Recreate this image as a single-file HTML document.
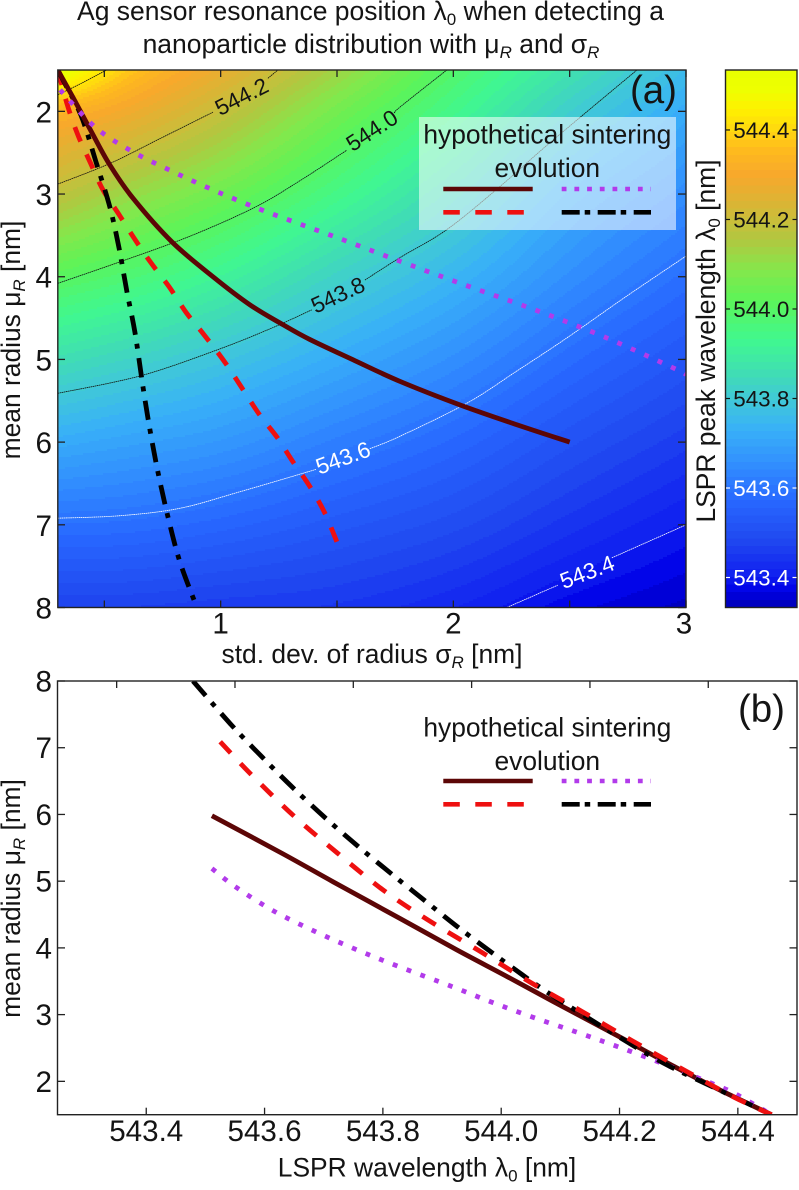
<!DOCTYPE html>
<html lang="en">
<head>
<meta charset="utf-8">
<title>Ag sensor resonance position</title>
<style>
html,body{margin:0;padding:0;background:#fff;}
svg{display:block;}
text{font-family:"Liberation Sans",sans-serif;fill:#141414;}
</style>
</head>
<body>
<svg id="chart" xmlns="http://www.w3.org/2000/svg" width="799" height="1190" viewBox="0 0 799 1190">
  <defs>
    <clipPath id="clip-a"><rect x="57.8" y="70" width="628.2" height="537.5"/></clipPath>
    <clipPath id="clip-b"><rect x="57.5" y="681" width="739.5" height="433.7"/></clipPath>
  </defs>
  <text x="370.5" y="20" text-anchor="middle" font-size="26.5">Ag sensor resonance position λ<tspan dy="5" font-size="17">0</tspan><tspan dy="-5"> when detecting a</tspan></text>
  <text x="371" y="53" text-anchor="middle" font-size="26.5">nanoparticle distribution with μ<tspan dy="5" font-size="17" font-style="italic">R</tspan><tspan dy="-5"> and σ</tspan><tspan dy="5" font-size="17" font-style="italic">R</tspan></text>

  <g id="heat-layer" clip-path="url(#clip-a)" shape-rendering="crispEdges"></g>
  <g id="contour-layer" clip-path="url(#clip-a)"></g>
  <g id="curves-a" clip-path="url(#clip-a)"></g>
  <rect x="419" y="117" width="257" height="113" fill="#ffffff" fill-opacity="0.55"/>
  <g id="ticks-a"></g>
  <rect x="57.8" y="70" width="628.2" height="537.5" fill="none" stroke="#222" stroke-width="1.4"/>

  <text x="677" y="103" text-anchor="end" font-size="38.5">(a)</text>
  <text x="547.3" y="143.3" text-anchor="middle" font-size="26.4">hypothetical sintering</text>
  <text x="547.3" y="177" text-anchor="middle" font-size="26.4">evolution</text>
  <line x1="443.3" x2="532.7" y1="189" y2="189" stroke="#5c0606" stroke-width="4.6"/>
  <line x1="561.7" x2="651" y1="189" y2="189" stroke="#b23bea" stroke-width="4.6" stroke-dasharray="4.8 7.9"/>
  <line x1="443.3" x2="524" y1="212.3" y2="212.3" stroke="#ee1010" stroke-width="4.6" stroke-dasharray="16.5 15.5"/>
  <line x1="561.7" x2="651" y1="212.3" y2="212.3" stroke="#000" stroke-width="4.6" stroke-dasharray="18 5 5.5 7.5"/>

  <text x="372" y="663" text-anchor="middle" font-size="26.4">std. dev. of radius σ<tspan dy="5" font-size="17" font-style="italic">R</tspan><tspan dy="-5"> [nm]</tspan></text>
  <text transform="translate(20,340) rotate(-90)" text-anchor="middle" font-size="26.4">mean radius μ<tspan dy="5" font-size="17" font-style="italic">R</tspan><tspan dy="-5"> [nm]</tspan></text>

  <g id="colorbar" shape-rendering="crispEdges"></g>
  <rect x="725.5" y="70" width="71.5" height="537.5" fill="none" stroke="#222" stroke-width="1.4"/>
  <g id="colorbar-ticks"></g>
  <text transform="translate(715,341) rotate(-90)" text-anchor="middle" font-size="26.4">LSPR peak wavelength λ<tspan dy="5" font-size="17">0</tspan><tspan dy="-5"> [nm]</tspan></text>

  <g id="curves-b" clip-path="url(#clip-b)"></g>
  <g id="ticks-b"></g>
  <rect x="57.5" y="681" width="739.5" height="433.7" fill="none" stroke="#222" stroke-width="1.4"/>

  <text x="785" y="722" text-anchor="end" font-size="38.5">(b)</text>
  <text x="547.3" y="736.7" text-anchor="middle" font-size="26.4">hypothetical sintering</text>
  <text x="547.3" y="770" text-anchor="middle" font-size="26.4">evolution</text>
  <line x1="443.3" x2="532.7" y1="781" y2="781" stroke="#5c0606" stroke-width="4.6"/>
  <line x1="561.7" x2="651" y1="781" y2="781" stroke="#b23bea" stroke-width="4.6" stroke-dasharray="4.8 7.9"/>
  <line x1="443.3" x2="524" y1="804.3" y2="804.3" stroke="#ee1010" stroke-width="4.6" stroke-dasharray="16.5 15.5"/>
  <line x1="561.7" x2="651" y1="804.3" y2="804.3" stroke="#000" stroke-width="4.6" stroke-dasharray="18 5 5.5 7.5"/>

  <text x="427" y="1176.7" text-anchor="middle" font-size="26.4">LSPR wavelength λ<tspan dy="5" font-size="17">0</tspan><tspan dy="-5"> [nm]</tspan></text>
  <text transform="translate(20,898.5) rotate(-90)" text-anchor="middle" font-size="26.4">mean radius μ<tspan dy="5" font-size="17" font-style="italic">R</tspan><tspan dy="-5"> [nm]</tspan></text>
</svg>
<script>
// ---- heatmap data: peak wavelength at each (sigma, mu) grid node ----
const sigmaGrid = [0.3, 0.6, 1, 1.5, 2, 2.5, 3];
const muGrid = [1.5, 2, 3, 4, 5, 6, 7, 8];
const lambdaGrid = [
  [544.53, 544.38, 544.27, 544.13, 543.99, 543.87, 543.76],
  [544.34, 544.285, 544.193, 544.06, 543.94, 543.815, 543.72],
  [544.18, 544.12, 544.05, 543.945, 543.84, 543.725, 543.65],
  [544.01, 543.975, 543.915, 543.825, 543.745, 543.655, 543.585],
  [543.86, 543.83, 543.785, 543.72, 543.655, 543.58, 543.52],
  [543.72, 543.70, 543.674, 543.62, 543.57, 543.51, 543.46],
  [543.59, 543.585, 543.565, 543.53, 543.495, 543.445, 543.40],
  [543.47, 543.47, 543.46, 543.45, 543.42, 543.375, 543.345]
];

// ---- colour scale ----
const cmapValues = [543.334, 543.372, 543.406, 543.484, 543.573, 543.64, 543.73, 543.797, 543.864, 543.93, 544.02, 544.087, 544.154, 544.19, 544.24, 544.3, 544.36, 544.4, 544.445, 544.49, 544.534];
const cmapColors = ['#0000b4', '#0000e8', '#1020f0', '#2048f0', '#2868ff', '#3088ff', '#38b0f8', '#40c8d8', '#40e0b0', '#40f890', '#5cf458', '#84e84c', '#b0c840', '#c4c03c', '#dcb434', '#f8a82c', '#ffbc1c', '#ffd810', '#fff000', '#eeff00', '#e8ff00'];
const colorbarTicks = [543.4, 543.6, 543.8, 544.0, 544.2, 544.4];
const colorbarTickLabels = ['543.4', '543.6', '543.8', '544.0', '544.2', '544.4'];
const colorbarBandCount = 70;

// ---- contour lines (sigma / mu) ----
const c5444Sigma = [0.3, 0.395, 0.51];
const c5444Mu = [1.80, 1.67, 1.5];
const c5442SigmaA = [0.3, 0.524, 0.739, 0.967];
const c5442MuA = [2.88, 2.63, 2.33, 2.01];
const c5442SigmaB = [1.203, 1.246];
const c5442MuB = [1.60, 1.5];
const c5440SigmaA = [0.3, 0.567, 0.868, 1.147, 1.34, 1.542];
const c5440MuA = [4.08, 3.82, 3.51, 3.16, 2.84, 2.47];
const c5440SigmaB = [1.748, 1.77, 1.972];
const c5440MuB = [2.02, 1.95, 1.5];
const c5438SigmaA = [0.3, 0.653, 0.98, 1.212, 1.392];
const c5438MuA = [5.41, 5.2, 4.89, 4.63, 4.40];
const c5438SigmaB = [1.62, 1.77, 1.972, 2.2, 2.415, 2.789];
const c5438MuB = [4.04, 3.77, 3.43, 2.91, 2.38, 1.5];
const c5436SigmaA = [0.3, 0.567, 0.825, 1.083, 1.41];
const c5436MuA = [6.92, 6.89, 6.8, 6.6, 6.33];
const c5436SigmaB = [1.641, 1.77, 2.058, 2.273, 2.488, 2.737, 3];
const c5436MuB = [6.08, 5.93, 5.53, 5.14, 4.74, 4.25, 3.75];
const c5434SigmaA = [2.23, 2.449];
const c5434MuA = [8, 7.73];
const c5434SigmaB = [2.681, 3];
const c5434MuB = [7.4, 7.0];
const contourLabels = ['544.2', '544.0', '543.8', '543.6', '543.4'];
const contourLabelSigma = [1.09, 1.65, 1.504, 1.526, 2.575];
const contourLabelMu = [1.82, 2.23, 4.22, 6.19, 7.57];

// ---- panel (a) curves ----
const solidSigma = [0.3, 0.365, 0.447, 0.524, 0.623, 0.791, 0.967, 1.126, 1.268, 1.384, 1.577, 1.77, 2.028, 2.273, 2.5];
const solidMu = [1.5, 1.83, 2.26, 2.65, 3.05, 3.58, 4.0, 4.34, 4.58, 4.76, 5.015, 5.265, 5.55, 5.79, 6.0];
const dashedSigma = [0.3, 0.344, 0.387, 0.438, 0.494, 0.559, 0.627, 0.7, 0.778, 0.851, 0.928, 1.027, 1.16, 1.242, 1.311, 1.384, 1.448, 1.5];
const dashedMu = [1.5, 1.95, 2.29, 2.61, 2.95, 3.23, 3.53, 3.83, 4.12, 4.43, 4.7, 5.07, 5.64, 5.94, 6.24, 6.54, 6.86, 7.21];
const dashdotSigma = [0.3, 0.322, 0.4, 0.464, 0.524, 0.563, 0.597, 0.632, 0.666, 0.696, 0.731, 0.774, 0.825, 0.898];
const dashdotMu = [1.5, 1.62, 2.05, 2.61, 3.16, 3.65, 4.18, 4.68, 5.33, 5.85, 6.37, 6.91, 7.45, 8];
const dottedSigma = [0.31, 0.46, 0.623, 0.795, 0.967, 1.147, 1.328, 1.504, 1.749, 2.05, 2.35, 2.651, 2.943, 3.0];
const dottedMu = [1.74, 2.19, 2.49, 2.73, 2.95, 3.16, 3.35, 3.53, 3.79, 4.1, 4.4, 4.73, 5.1, 5.18];

// ---- panel (b) curves ----
const solidLambda = [543.511, 543.631, 543.716, 543.829, 543.925, 544.01, 544.087, 544.195, 544.28, 544.365, 544.457];
const solidMuVsLambda = [5.98, 5.41, 4.99, 4.44, 3.97, 3.57, 3.2, 2.69, 2.28, 1.89, 1.5];
const dashedLambda = [543.525, 543.575, 543.648, 543.722, 543.8, 543.876, 543.964, 544.05, 544.136, 544.223, 544.307, 544.392, 544.457];
const dashedMuVsLambda = [7.09, 6.62, 5.99, 5.43, 4.87, 4.42, 3.95, 3.48, 3.05, 2.6, 2.18, 1.77, 1.5];
const dashdotLambda = [543.479, 543.542, 543.597, 543.648, 543.705, 543.761, 543.82, 543.879, 543.93, 543.998, 544.077, 544.145, 544.189, 544.273, 544.364, 544.457];
const dashdotMuVsLambda = [8, 7.36, 6.85, 6.40, 5.93, 5.5, 5.07, 4.65, 4.29, 3.84, 3.34, 2.96, 2.72, 2.28, 1.89, 1.5];
const dottedLambda = [543.511, 543.55, 543.614, 543.682, 543.751, 543.824, 543.917, 543.986, 544.057, 544.13, 544.2, 544.272, 544.336, 544.392, 544.457];
const dottedMuVsLambda = [5.19, 4.92, 4.56, 4.26, 3.99, 3.73, 3.42, 3.18, 2.95, 2.73, 2.51, 2.27, 2.04, 1.83, 1.5];

// ---- ticks ----
const sigmaTicks = [1, 2, 3];
const sigmaTickLabels = ['1', '2', '3'];
const sigmaMinorTicks = [0.5, 1.5, 2.5];
const muTicks = [2, 3, 4, 5, 6, 7, 8];
const muTickLabels = ['2', '3', '4', '5', '6', '7', '8'];
const lambdaTicks = [543.4, 543.6, 543.8, 544.0, 544.2, 544.4];
const lambdaTickLabels = ['543.4', '543.6', '543.8', '544.0', '544.2', '544.4'];
const lambdaTopTicks = [543.35, 543.55, 543.75, 543.95, 544.15, 544.35];

// ---- axis functions ----
function axis(d0, d1, r0, r1) { return function (v) { return r0 + (v - d0) * (r1 - r0) / (d1 - d0); }; }
const xA = axis(0.3, 3, 57.8, 686);
const yA = axis(1.5, 8, 70, 607.5);
const xB = axis(543.25, 544.5, 57.5, 797);
const yB = axis(1.5, 8, 1114.7, 681);
const yBar = axis(543.333, 544.534, 607.5, 70);

const NS = 'http://www.w3.org/2000/svg';
function mk(parent, tag, attrs, txt) {
  const el = document.createElementNS(NS, tag);
  for (const k in attrs) el.setAttribute(k, attrs[k]);
  if (txt !== undefined) el.textContent = txt;
  parent.appendChild(el);
  return el;
}
function byId(id) { return document.getElementById(id); }

// cubic Hermite through nodes, only used to shade between grid nodes
function hermite(xs, ys, x) {
  let i = 0;
  while (i < xs.length - 2 && x > xs[i + 1]) i++;
  const h = xs[i + 1] - xs[i];
  const t = (x - xs[i]) / h;
  const m0 = i > 0 ? (ys[i + 1] - ys[i - 1]) / (xs[i + 1] - xs[i - 1]) : (ys[i + 1] - ys[i]) / h;
  const m1 = i < xs.length - 2 ? (ys[i + 2] - ys[i]) / (xs[i + 2] - xs[i]) : (ys[i + 1] - ys[i]) / h;
  const t2 = t * t, t3 = t2 * t;
  return (2 * t3 - 3 * t2 + 1) * ys[i] + (t3 - 2 * t2 + t) * h * m0 + (-2 * t3 + 3 * t2) * ys[i + 1] + (t3 - t2) * h * m1;
}
function hexRgb(h) { return [parseInt(h.slice(1, 3), 16), parseInt(h.slice(3, 5), 16), parseInt(h.slice(5, 7), 16)]; }
function colorAt(v) {
  let i = 0;
  while (i < cmapValues.length - 2 && v > cmapValues[i + 1]) i++;
  let t = (v - cmapValues[i]) / (cmapValues[i + 1] - cmapValues[i]);
  t = Math.max(0, Math.min(1, t));
  const a = hexRgb(cmapColors[i]), b = hexRgb(cmapColors[i + 1]);
  return 'rgb(' + [0, 1, 2].map(function (k) { return Math.round(a[k] + (b[k] - a[k]) * t); }).join(',') + ')';
}
const bandMin = cmapValues[0];
const bandMax = cmapValues[cmapValues.length - 1];
const bandStep = (bandMax - bandMin) / colorbarBandCount;
function bandIndex(v) { return Math.max(0, Math.min(colorbarBandCount - 1, Math.floor((v - bandMin) / bandStep))); }

// ---- heatmap: contiguous filled bands ----
(function drawHeat() {
  const layer = byId('heat-layer');
  const paths = [];
  for (let b = 0; b < colorbarBandCount; b++) paths.push('');
  const step = 2;
  const invX = function (px) { return 0.3 + (px - 57.8) * (3 - 0.3) / (686 - 57.8); };
  const invY = function (py) { return 1.5 + (py - 70) * (8 - 1.5) / (607.5 - 70); };
  for (let px = 57; px < 687; px += step) {
    const s = Math.max(0.3, Math.min(3, invX(px + step / 2)));
    const col = lambdaGrid.map(function (row) { return hermite(sigmaGrid, row, s); });
    let startY = 69, cur = -1;
    for (let py = 69; py <= 609; py += step) {
      const m = Math.max(1.5, Math.min(8, invY(py + step / 2)));
      const idx = py >= 609 ? -2 : bandIndex(hermite(muGrid, col, m));
      if (idx !== cur) {
        if (cur >= 0) paths[cur] += 'M' + px + ' ' + startY + 'h' + step + 'v' + (py - startY) + 'h-' + step + 'z';
        cur = idx; startY = py;
      }
    }
  }
  paths.forEach(function (d, b) {
    if (!d) return;
    const el = mk(layer, 'path', { d: d, fill: colorAt(bandMin + (b + 0.5) * bandStep) });
    
    
  });
})();

// ---- colorbar ----
(function drawColorbar() {
  const layer = byId('colorbar');
  for (let b = 0; b < colorbarBandCount; b++) {
    const v0 = bandMin + b * bandStep, v1 = v0 + bandStep;
    const el = mk(layer, 'rect', { x: 725.5, width: 71.5, y: yBar(v1), height: yBar(v0) - yBar(v1) + 0.5, fill: colorAt((v0 + v1) / 2) });
    
    
  }
  const tickLayer = byId('colorbar-ticks');
  colorbarTicks.forEach(function (v, i) {
    const ink = v < 543.7 ? '#ffffff' : '#141414';
    const y = yBar(v);
    const left = mk(tickLayer, 'line', { x1: 726, x2: 730, y1: y, y2: y, stroke: ink, 'stroke-width': 1.2 });
    
    
    const right = mk(tickLayer, 'line', { x1: 792.5, x2: 796.5, y1: y, y2: y, stroke: ink, 'stroke-width': 1.2 });
    
    
    const t = mk(tickLayer, 'text', { x: 761.3, y: y + 8, 'text-anchor': 'middle', 'font-size': 22.4, style: 'fill:' + ink }, colorbarTickLabels[i]);
    
    
  });
})();

// ---- smooth path through points ----
function smoothPath(px, py) {
  let d = 'M' + px[0].toFixed(2) + ' ' + py[0].toFixed(2);
  for (let i = 0; i < px.length - 1; i++) {
    const a = Math.max(i - 1, 0), b = Math.min(i + 2, px.length - 1);
    const c1x = px[i] + (px[i + 1] - px[a]) / 6, c1y = py[i] + (py[i + 1] - py[a]) / 6;
    const c2x = px[i + 1] - (px[b] - px[i]) / 6, c2y = py[i + 1] - (py[b] - py[i]) / 6;
    d += 'C' + c1x.toFixed(2) + ' ' + c1y.toFixed(2) + ' ' + c2x.toFixed(2) + ' ' + c2y.toFixed(2) + ' ' + px[i + 1].toFixed(2) + ' ' + py[i + 1].toFixed(2);
  }
  return d;
}
function pathA(sig, mu) { return smoothPath(sig.map(xA), mu.map(yA)); }
function pathB(lam, mu) { return smoothPath(lam.map(xB), mu.map(yB)); }

// ---- contours ----
const contourSegments = [
  [c5444Sigma, c5444Mu, '#111'],
  [c5442SigmaA, c5442MuA, '#111'], [c5442SigmaB, c5442MuB, '#111'],
  [c5440SigmaA, c5440MuA, '#111'], [c5440SigmaB, c5440MuB, '#111'],
  [c5438SigmaA, c5438MuA, '#111'], [c5438SigmaB, c5438MuB, '#111'],
  [c5436SigmaA, c5436MuA, '#fff'], [c5436SigmaB, c5436MuB, '#fff'],
  [c5434SigmaA, c5434MuA, '#fff'], [c5434SigmaB, c5434MuB, '#fff']
];
const contourRotation = [-27, -33, -25, -20, -21];
contourSegments.forEach(function (seg) {
  const el = mk(byId('contour-layer'), 'path', { d: pathA(seg[0], seg[1]), fill: 'none', stroke: seg[2], 'stroke-width': 0.8, 'stroke-dasharray': '1.6 0.5' });
  
  
});
contourLabels.forEach(function (label, i) {
  const x = xA(contourLabelSigma[i]), y = yA(contourLabelMu[i]);
  const ink = i >= 3 ? '#fff' : '#141414';
  const t = mk(byId('contour-layer'), 'text', { x: 0, y: 7.8, 'text-anchor': 'middle', 'font-size': 22.5, style: 'fill:' + ink, transform: 'translate(' + x.toFixed(1) + ',' + y.toFixed(1) + ') rotate(' + contourRotation[i] + ')' }, label);
  
  
});

// ---- curves ----
const lineW = 4.8;
const dashRed = '15.5 14.3';
const dashBlack = '19.5 9 5 9.5';
const dashDot = '4.8 9.9';
(function drawCurvesA() {
  const g = byId('curves-a');
  const red = mk(g, 'path', { d: pathA(dashedSigma, dashedMu), fill: 'none', stroke: '#ee1010', 'stroke-width': lineW, 'stroke-dasharray': dashRed });
  
  
  const black = mk(g, 'path', { d: pathA(dashdotSigma, dashdotMu), fill: 'none', stroke: '#000', 'stroke-width': lineW, 'stroke-dasharray': dashBlack });
  
  
  const solid = mk(g, 'path', { d: pathA(solidSigma, solidMu), fill: 'none', stroke: '#5c0606', 'stroke-width': lineW });
  
  
  const dot = mk(g, 'path', { d: pathA(dottedSigma, dottedMu), fill: 'none', stroke: '#b23bea', 'stroke-width': lineW, 'stroke-dasharray': dashDot });
  
  
})();
(function drawCurvesB() {
  const g = byId('curves-b');
  const solid = mk(g, 'path', { d: pathB(solidLambda, solidMuVsLambda), fill: 'none', stroke: '#5c0606', 'stroke-width': lineW });
  
  
  const dot = mk(g, 'path', { d: pathB(dottedLambda, dottedMuVsLambda), fill: 'none', stroke: '#b23bea', 'stroke-width': lineW, 'stroke-dasharray': dashDot });
  
  
  const black = mk(g, 'path', { d: pathB(dashdotLambda, dashdotMuVsLambda), fill: 'none', stroke: '#000', 'stroke-width': lineW, 'stroke-dasharray': dashBlack });
  
  
  const red = mk(g, 'path', { d: pathB(dashedLambda, dashedMuVsLambda), fill: 'none', stroke: '#ee1010', 'stroke-width': lineW, 'stroke-dasharray': dashRed });
  
  
})();

// ---- ticks, panel (a) ----
(function drawTicksA() {
  const g = byId('ticks-a');
  const tickStyle = { stroke: '#222', 'stroke-width': 1.3 };
  sigmaTicks.concat(sigmaMinorTicks).forEach(function (v) {
    const x = xA(v);
    const bottom = mk(g, 'line', Object.assign({ x1: x, x2: x, y1: 607.5, y2: 600.5 }, tickStyle));
    
    
    const top = mk(g, 'line', Object.assign({ x1: x, x2: x, y1: 70, y2: 77 }, tickStyle));
    
    
  });
  sigmaTicks.forEach(function (v, i) {
    const t = mk(g, 'text', { x: xA(v) - (v === 3 ? 2 : 0), y: 633.5, 'text-anchor': 'middle', 'font-size': 29.6 }, sigmaTickLabels[i]);
    
    
  });
  muTicks.forEach(function (v, i) {
    const y = yA(v);
    const left = mk(g, 'line', Object.assign({ x1: 57.8, x2: 65, y1: y, y2: y }, tickStyle));
    
    
    const right = mk(g, 'line', Object.assign({ x1: 678, x2: 686, y1: y, y2: y }, tickStyle));
    
    
    const t = mk(g, 'text', { x: 52, y: y + 11, 'text-anchor': 'end', 'font-size': 29.6 }, muTickLabels[i]);
    
    
  });
})();

// ---- ticks, panel (b) ----
(function drawTicksB() {
  const g = byId('ticks-b');
  const tickStyle = { stroke: '#222', 'stroke-width': 1.3 };
  lambdaTicks.forEach(function (v, i) {
    const x = xB(v);
    const bottom = mk(g, 'line', Object.assign({ x1: x, x2: x, y1: 1114.7, y2: 1107.7 }, tickStyle));
    
    
    const t = mk(g, 'text', { x: x, y: 1141, 'text-anchor': 'middle', 'font-size': 29.6 }, lambdaTickLabels[i]);
    
    
  });
  lambdaTopTicks.forEach(function (v) {
    const x = xB(v);
    const top = mk(g, 'line', Object.assign({ x1: x, x2: x, y1: 681, y2: 688 }, tickStyle));
    
    
  });
  muTicks.forEach(function (v, i) {
    const y = yB(v);
    const left = mk(g, 'line', Object.assign({ x1: 57.5, x2: 65, y1: y, y2: y }, tickStyle));
    
    
    const right = mk(g, 'line', Object.assign({ x1: 789.5, x2: 797, y1: y, y2: y }, tickStyle));
    
    
    const t = mk(g, 'text', { x: 52, y: y + 10.5, 'text-anchor': 'end', 'font-size': 29.6 }, muTickLabels[i]);
    
    
  });
})();
</script>
</body>
</html>
